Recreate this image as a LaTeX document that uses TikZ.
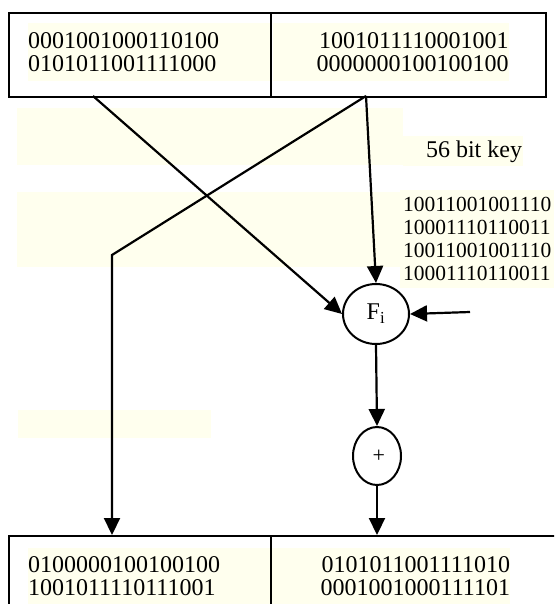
\documentclass[tikz,border=0pt]{standalone}
\usepackage{fontspec}
\setmainfont{Liberation Serif}
\usetikzlibrary{arrows.meta, positioning, shapes.geometric, calc}
\definecolor{hl}{RGB}{255,255,238}

\begin{document}
\begin{tikzpicture}[
		x=1pt, y=-1pt,
		half/.style={draw, line width=2pt, inner sep=0pt, anchor=north west},
		bits/.style={fill=hl, inner sep=0pt, font=\fontsize{24}{23.5}\selectfont},
		fn/.style={draw, ellipse, line width=2pt, inner sep=0pt, fill=white},
		arr/.style={-{Triangle[length=17pt, width=16pt]}, line width=2.2pt}
	]
		\useasboundingbox (0,0) rectangle (554,604);
		\clip (0,0) rectangle (554,604);
		\fill[white] (0,0) rectangle (554,604);
		\fill[hl] (17,108) rectangle (403,165);
		\fill[hl] (403,136) rectangle (523,166);
		\fill[hl] (17,192) rectangle (403,267);
		\fill[hl] (400,190) rectangle (554,288);
		\fill[hl] (18,410) rectangle (211,438);
		\node[bits, text width=242pt, align=left, minimum height=58pt] (ltop) at (149,52) {0001001000110100\\0101011001111000};
		\node[bits, text width=236pt, align=right, minimum height=58pt] (rtop) at (390.5,52) {1001011110001001\\0000000100100100};
		\node[bits, text width=242pt, align=left, minimum height=56pt] (lbot) at (149,576) {0100000100100100\\1001011110111001};
		\node[bits, text width=238pt, align=right, minimum height=56pt] (rbot) at (391,576) {0101011001111010\\0001001000111101};
		\node[half, minimum width=262pt, minimum height=84pt] (topL) at (8,12) {};
		\node[half, minimum width=275pt, minimum height=84pt] (topR) at (270,12) {};
		\node[half, minimum width=262pt, minimum height=110pt] (botL) at (8,535) {};
		\node[half, minimum width=320pt, minimum height=110pt] (botR) at (270,535) {};
		\node[font=\fontsize{24}{24}\selectfont] (keylbl) at (474,152) {56 bit key};
		\node[font=\fontsize{21.5}{22.7}\selectfont, align=left, anchor=west, inner sep=0pt] (keybits) at (403,239) {10011001001110\\10001110110011\\10011001001110\\10001110110011};
		\node[fn, minimum width=66pt, minimum height=60pt, font=\fontsize{24}{24}\selectfont] (F) at (376,314) {F\textsubscript{i}};
		\node[fn, minimum width=48pt, minimum height=58pt, font=\fontsize{22}{22}\selectfont] (xor) at (377,456) {\raisebox{-4pt}{\,+}};
		\coordinate (lsrc) at (93,96);
		\coordinate (rsrc) at (366,96);
		\coordinate (bend) at (112,255);
		\coordinate (keyin) at (470,312);
		\draw[arr] (lsrc) -- (F.west);
		\draw[arr] (rsrc) -- (F.north);
		\draw[arr] (rsrc) -- (bend) -- (bend |- botL.north);
		\draw[arr] (keyin) -- (F.east);
		\draw[arr] (F.south) -- (xor.north);
		\draw[arr] (xor.south) -- (xor.south |- botR.north);
	\end{tikzpicture}
\end{document}
